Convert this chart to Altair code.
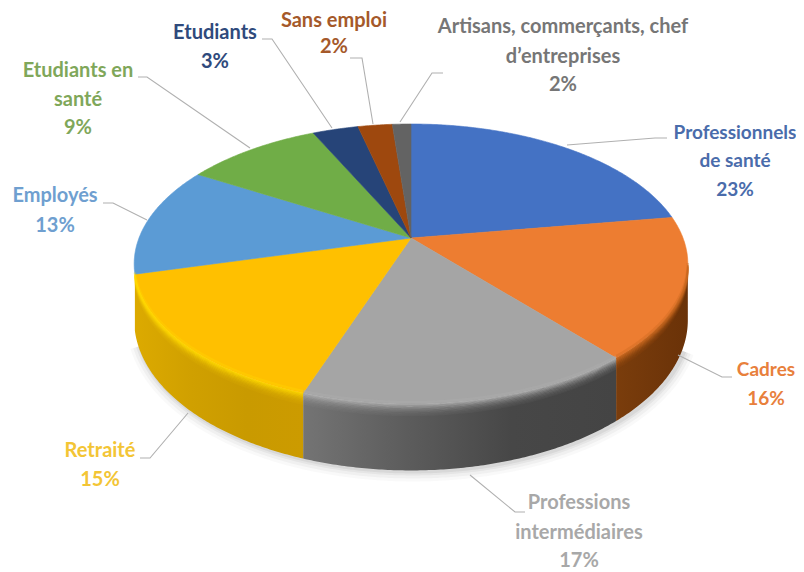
import math
import altair as alt
import pandas as pd

names = ["Professionnels de santé", "Cadres", "Professions intermédiaires", "Retraité", "Employés",
         "Etudiants en santé", "Etudiants", "Sans emploi", "Artisans, commerçants, chef d’entreprises"]
shares = [22.5, 16.3, 16.5, 15.6, 12.7, 9.5, 3.2, 2.4, 1.3]
faces = ["#4472c4", "#ed7d31", "#a5a5a5", "#ffc000", "#5b9bd5", "#70ad47", "#264478", "#9e480e", "#636363"]
wall_stops = {1: ["#7a3d0c", "#6a3208"], 2: ["#747474", "#5c5c5c", "#474747", "#444444"], 3: ["#dcaa00", "#d0a000", "#c99a00", "#cc9b00"]}
rim_hi = {1: "#c9681f", 2: "#b0b0b0", 3: "#ffd800"}
label_colors = ["#4a6cab", "#e8803c", "#a8a8a8", "#f3c535", "#6f9fd0", "#7fa75a", "#2f4a7c", "#a5592a", "#767676"]

label_lines = [["Professionnels", "de santé", "23%"], ["Cadres", "16%"], ["Professions", "intermédiaires", "17%"],
               ["Retraité", "15%"], ["Employés", "13%"], ["Etudiants en", "santé", "9%"], ["Etudiants", "3%"],
               ["Sans emploi", "2%"], ["Artisans, commerçants, chef", "d’entreprises", "2%"]]
label_x = [735, 766, 579, 100, 55, 78, 215, 334, 563]
label_y = [[133, 161, 190], [370, 399], [503, 533, 561], [451, 480], [196, 226], [71, 100, 128], [33, 62], [21, 47], [27, 57, 85]]
label_size = [19, 19, 20, 20, 20, 20, 20, 20, 20]
leaders = [[(567, 145), (655, 138), (667, 138)], [(678, 355), (722, 377), (732, 377)], [(470, 475), (515, 512), (525, 512)],
           [(188, 413), (150, 458), (140, 458)], [(147, 220), (113, 203), (103, 203)], [(250, 148), (147, 77), (138, 77)],
           [(332, 128), (272, 39), (262, 39)], [(373, 124), (362, 58), (350, 58)], [(400, 122), (432, 73), (443, 73)]]

CX, CY, A, B, K, D = 411, 238, 272, 135.2, 0.186, 54
FRONT_FROM, FRONT_TO = 101, 257


def project(deg, drop=0.0):
    t = math.radians(deg)
    u, v = math.sin(t), math.cos(t)
    w = 1 + K * v
    return CX + A * u / w, CY + (-B * v + drop * D) / w


X = alt.X("x:Q", scale=alt.Scale(domain=[8, 796], nice=False, zero=False), axis=None)
Y = alt.Y("y:Q", scale=alt.Scale(domain=[572, 8], nice=False, zero=False), axis=None)
Y2 = alt.Y2("y2:Q")

starts, run = [], 0.0
for s in shares:
    starts.append(run)
    run += s
angles = [(a * 3.6, (a + s) * 3.6) for a, s in zip(starts, shares)]


def sweep(a, b):
    n = max(2, int(abs(b - a)) * 2)
    return [a + (b - a) * i / n for i in range(n + 1)]


layers = []


def rim_line(degs, drop, color, width, opacity=1.0):
    df = pd.DataFrame([{"x": project(d, drop)[0], "y": project(d, drop)[1], "i": i} for i, d in enumerate(degs)])
    return alt.Chart(df).mark_line(color=color, strokeWidth=width, opacity=opacity, strokeCap="butt").encode(x=X, y=Y, order="i:Q")


# soft shadow beneath the pie
for w, op in [(20, 0.035), (14, 0.05), (8, 0.07), (4, 0.09)]:
    df = pd.DataFrame([{"x": project(d, 1.0)[0] + 2, "y": project(d, 1.0)[1] + 1, "i": i} for i, d in enumerate(sweep(112, 250))])
    layers.append(alt.Chart(df).mark_line(color="#555555", strokeWidth=w, opacity=op).encode(x=X, y=Y, order="i:Q"))

# side walls
for k in wall_stops:
    a, b = angles[k]
    a, b = max(a, FRONT_FROM), min(b, FRONT_TO)
    rows = [{"x": project(d)[0], "y": project(d)[1], "y2": project(d, 1.0)[1]} for d in sweep(a, b)]
    cols = wall_stops[k]
    grad = alt.Gradient(gradient="linear", x1=0, x2=1, y1=0, y2=0,
                        stops=[alt.GradientStop(color=c, offset=i / (len(cols) - 1)) for i, c in enumerate(cols)])
    layers.append(alt.Chart(pd.DataFrame(rows)).mark_area(color=grad, line=False).encode(x=X, y=Y, y2=Y2))

# top faces
for k, (a, b) in enumerate(angles):
    pts = [(CX, CY)] + [project(d) for d in sweep(a, b)] + [(CX, CY)]
    df = pd.DataFrame([{"x": p[0], "y": p[1], "i": i} for i, p in enumerate(pts)])
    layers.append(alt.Chart(df).mark_line(fill=faces[k], stroke=faces[k], strokeWidth=0.6).encode(x=X, y=Y, order="i:Q"))

# bevelled rim: a highlight that fades out into the wall colour
band_drops = [0.17, 0.15, 0.13, 0.11, 0.09, 0.07, 0.05, 0.03, 0.01]
band_alpha = [0.06, 0.08, 0.12, 0.18, 0.26, 0.36, 0.5, 0.65, 0.8]
for k in wall_stops:
    a, b = angles[k]
    a, b = max(a, FRONT_FROM), min(b, FRONT_TO)
    for drop, op in zip(band_drops, band_alpha):
        layers.append(rim_line(sweep(a, b), drop, rim_hi[k], 1.6, op))
    layers.append(rim_line(sweep(a, b), -0.03, rim_hi[k], 2.5, 0.35))

# leader lines
for pts in leaders:
    df = pd.DataFrame([{"x": p[0], "y": p[1], "i": i} for i, p in enumerate(pts)])
    layers.append(alt.Chart(df).mark_line(color="#b0b0b0", strokeWidth=1.1).encode(x=X, y=Y, order="i:Q"))

# labels
rows = []
for k, lines in enumerate(label_lines):
    for t, yy in zip(lines, label_y[k]):
        rows.append({"x": label_x[k], "y": yy, "t": t, "c": label_colors[k], "s": label_size[k]})
labels = alt.Chart(pd.DataFrame(rows)).mark_text(font="Lato", fontWeight="bold", align="center", baseline="middle").encode(
    x=X, y=Y, text="t:N", color=alt.Color("c:N", scale=None), size=alt.Size("s:Q", scale=None))
layers.append(labels)

chart = alt.layer(*layers).properties(width=788, height=564, padding=0, autosize=alt.AutoSizeParams(type="none"),
                                      background="white").configure_view(stroke=None)
chart.save("out.html", embed_options={"renderer": "svg", "actions": False})
